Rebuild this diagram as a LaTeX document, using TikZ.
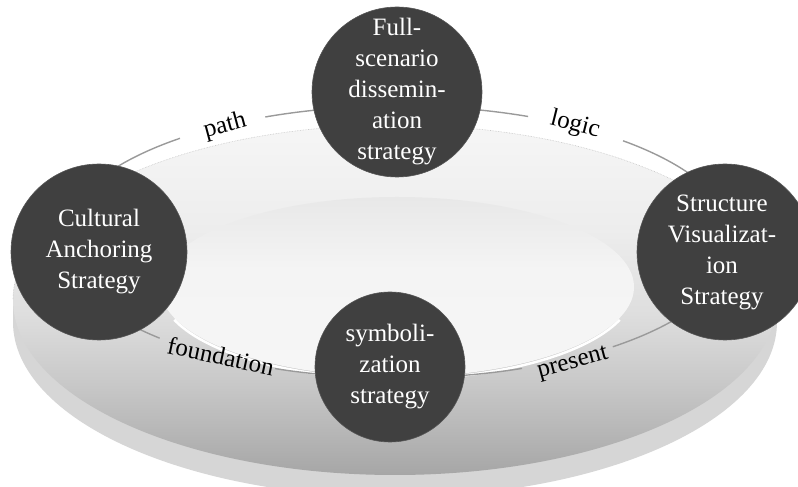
\documentclass[tikz,border=0pt]{standalone}
\usepackage{fontspec}
\setmainfont{Liberation Serif}
\usetikzlibrary{calc}

\definecolor{knot}{HTML}{404040}
\definecolor{knotedge}{HTML}{555555}
\definecolor{sidecol}{HTML}{D6D6D6}
\definecolor{ringline}{HTML}{9A9A9A}
\definecolor{faceline}{HTML}{C4C4C4}
\definecolor{fA}{HTML}{A6A6A6}
\definecolor{fB}{HTML}{B6B6B6}
\definecolor{fC}{HTML}{C8C8C8}
\definecolor{fD}{HTML}{DEDEDE}
\definecolor{fE}{HTML}{EDEDED}
\definecolor{fF}{HTML}{F6F6F6}
\definecolor{iA}{HTML}{F6F6F6}
\definecolor{iB}{HTML}{F4F4F4}
\definecolor{iC}{HTML}{E8E8E8}

% top face of the disc: dark at the front, light at the back
\pgfdeclareverticalshading{facegrad}{100bp}{%
  color(0bp)=(fA); color(25bp)=(fA); color(31bp)=(fB); color(38bp)=(fC);
  color(48bp)=(fD); color(60bp)=(fE); color(75bp)=(fF); color(100bp)=(fF)}
% inner plate
\pgfdeclareverticalshading{innergrad}{100bp}{%
  color(0bp)=(iA); color(25bp)=(iA); color(55bp)=(iB); color(75bp)=(iC);
  color(100bp)=(iC)}

\begin{document}
\begin{tikzpicture}[x=1pt,y=1pt,
  stratdisc/.style={circle, fill=knot, draw=knotedge, line width=0.6pt, inner sep=0pt},
  strattext/.style={text=white, align=center, inner sep=0pt,
    font=\fontsize{25}{31}\selectfont},
  linklabel/.style={font=\fontsize{25}{31}\selectfont, inner sep=1pt},
  ring/.style={draw=ringline, line width=1.4pt}]
\useasboundingbox (0,0) rectangle (798,487);
\clip (0,0) rectangle (798,487);

% disc side
\fill[sidecol] (395,165) ellipse [x radius=382, y radius=175];
\fill[sidecol] (13,165) rectangle (777,187);
% disc top face
\shade[shading=facegrad] (395,187) ellipse [x radius=382, y radius=175];
\draw[faceline, densely dotted, line width=0.6pt]
  (777,187) arc [start angle=0, end angle=180, x radius=382, y radius=175];
% inner plate with a bright lower rim
\shade[shading=innergrad] (397,200) ellipse [x radius=237, y radius=90];
\draw[white, line width=2.5pt]
  (174.3,167.2) arc [start angle=200, end angle=340, x radius=237, y radius=90];

% points on the linking ellipse where the labels interrupt it
\coordinate (rA) at (612.8,140.2);
\coordinate (tA) at (528.1,370.5);
\coordinate (lA) at (180.0,348.7);
\coordinate (bA) at (275.0,118.4);

% linking ellipse, drawn in four pieces
\draw[ring] (rA) arc [start angle=309.6, end angle=408.1, x radius=337, y radius=136];
\draw[ring] (tA) arc [start angle=67.3, end angle=113.2, x radius=337, y radius=136];
\draw[ring] (lA) arc [start angle=130.3, end angle=225, x radius=337, y radius=136];
\draw[ring] (bA) arc [start angle=248.6, end angle=291.6, x radius=337, y radius=136];

% labels on the links
\node[linklabel, rotate=15]  (lpath)  at (225,361) {path};
\node[linklabel, rotate=-14] (llogic) at (575,362) {logic};
\node[linklabel, rotate=-12] (lfound) at (221,131) {foundation};
\node[linklabel, rotate=15]  (lpres)  at (573,123) {present};

% strategy discs
\node[stratdisc, minimum size=170] (full)   at (397,395) {};
\node[stratdisc, minimum size=176] (cult)   at (99,235)  {};
\node[stratdisc, minimum size=176] (struct) at (725,235) {};
\node[stratdisc, minimum size=150] (symb)   at (390,120) {};

\node[strattext] at (full)   {Full-\\scenario\\dissemin-\\ation\\strategy};
\node[strattext] at (cult)   {Cultural\\Anchoring\\Strategy};
\node[strattext] at ([xshift=-3pt]struct.center) {Structure\\Visualizat-\\ion\\Strategy};
\node[strattext] at (symb)   {symboli-\\zation\\strategy};
\end{tikzpicture}
\end{document}
